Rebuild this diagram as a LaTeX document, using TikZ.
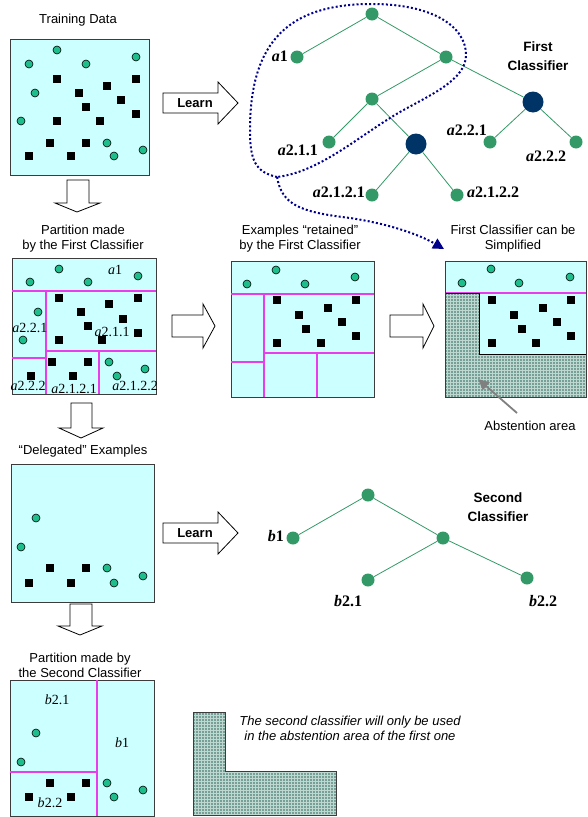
\documentclass[tikz,border=0pt]{standalone}
\usepackage{fontspec}
\setmainfont{Liberation Sans}
\newfontfamily\serifface{Liberation Serif}
\usetikzlibrary{arrows.meta,patterns}

\definecolor{boxfill}{RGB}{204,255,255}
\definecolor{boxline}{RGB}{60,60,60}
\definecolor{dotgreen}{RGB}{30,190,140}
\definecolor{treegreen}{RGB}{51,153,102}
\definecolor{treeblue}{RGB}{0,51,102}
\definecolor{partline}{RGB}{235,60,235}
\definecolor{loopblue}{RGB}{0,0,140}
\definecolor{abstfill}{RGB}{118,160,150}
\definecolor{abstgrid}{RGB}{190,215,208}

\tikzset{
  posdot/.style={circle, draw=black, line width=0.6pt, fill=dotgreen, inner sep=0pt, minimum size=8pt},
  negsq/.style={rectangle, fill=black, inner sep=0pt, minimum size=7.5pt},
  databox/.style={draw=boxline, line width=1pt, fill=boxfill},
  cut/.style={draw=partline, line width=1.1pt},
  leaf/.style={circle, fill=treegreen, inner sep=0pt, minimum size=13pt},
  inner/.style={circle, fill=treeblue, inner sep=0pt, minimum size=21pt},
  branch/.style={draw=treegreen, line width=0.8pt},
  treelab/.style={font=\fontsize{16}{18}\selectfont\serifface\bfseries, inner sep=0pt},
  celllab/.style={font=\fontsize{14}{16}\selectfont\serifface, inner sep=0pt},
  boxtitle/.style={font=\fontsize{13}{15}\selectfont, align=center, inner sep=0pt},
  treetitle/.style={font=\fontsize{13.5}{19.5}\selectfont\bfseries, align=center, inner sep=0pt},
  fatarrow/.style={draw=black, line width=0.8pt, fill=white},
  abstention/.style={fill=abstfill, postaction={pattern=grid, pattern color=abstgrid}},
}

\begin{document}
\begin{tikzpicture}[x=1pt,y=-1pt]
\useasboundingbox (0,0) rectangle (587,817);

% training data
\node[boxtitle] (t1) at (78,20) {Training Data};
\draw[databox] (10,39) rectangle (149,175);
\foreach \x/\y [count=\i] in {57/50,29/64,86/64,136/57,35/93,21/121,107/143,114/156,143/150}
  \node[posdot] (tdc\i) at (\x,\y) {};
\foreach \x/\y [count=\i] in {57/79,136/79,107/86,79/93,121/100,86/107,57/121,100/121,136/114,50/143,86/143,29/156,71/156}
  \node[negsq] (tds\i) at (\x,\y) {};

% learn arrow
\draw[fatarrow] (163,93) -- (218,93) -- (218,82) -- (238,103) -- (218,124) -- (218,113) -- (163,113) -- cycle;
\node[font=\fontsize{13}{15}\selectfont\bfseries] (learn1) at (195,103) {Learn};

% first classifier
\node[leaf] (r) at (372,14) {};
\node[leaf] (a1) at (297,57) {};
\node[leaf] (a2) at (446,57) {};
\node[leaf] (a21) at (372,99) {};
\node[inner] (a22) at (533,102) {};
\node[leaf] (a211) at (329,142) {};
\node[inner] (a212) at (416,144) {};
\node[leaf] (a221) at (490,142) {};
\node[leaf] (a222) at (576,142) {};
\node[leaf] (a2121) at (372,195) {};
\node[leaf] (a2122) at (457,195) {};
\draw[branch] (r) -- (a1) (r) -- (a2) (a2) -- (a21) (a2) -- (a22)
  (a21) -- (a211) (a21) -- (a212) (a212) -- (a2121) (a212) -- (a2122)
  (a22) -- (a221) (a22) -- (a222);
\node[treelab, anchor=east] (la1) at (288,56) {{\itshape a}1};
\node[treelab, anchor=east] (la211) at (318,150) {{\itshape a}2.1.1};
\node[treelab, anchor=east] (la221) at (487,130) {{\itshape a}2.2.1};
\node[treelab] (la222) at (546,156) {{\itshape a}2.2.2};
\node[treelab, anchor=east] (la2121) at (365,192) {{\itshape a}2.1.2.1};
\node[treelab, anchor=west] (la2122) at (467,192) {{\itshape a}2.1.2.2};
\node[treetitle] (c1) at (538,56) {First\\Classifier};

% part of the tree that is kept
\coordinate (loopend) at (277,177);
\coordinate (simptip) at (444,249);
\draw[loopblue, line width=2pt, dash pattern=on 2pt off 2.2pt]
  (loopend) .. controls (255,172) and (250,160) .. (250,130)
  .. controls (250,40) and (290,4) .. (372,4)
  .. controls (430,4) and (466,25) .. (466,55)
  .. controls (466,80) and (430,95) .. (400,112)
  .. controls (360,135) and (320,172) .. (loopend);
\draw[loopblue, line width=2pt, dash pattern=on 2pt off 2.2pt, -{Triangle[length=11pt,width=11pt]}]
  (loopend) .. controls (282,205) and (300,212) .. (350,218)
  .. controls (390,224) and (420,235) .. (simptip);

% partition of the first classifier
\draw[fatarrow] (67,180) -- (89,180) -- (89,203) -- (100,203) -- (77,212) -- (55,203) -- (67,203) -- cycle;
\node[boxtitle] (t2) at (83,238.5) {Partition made\\by the First Classifier};
\draw[databox] (12,258) rectangle (156,394);
\draw[cut] (12,291) -- (156,291);
\draw[cut] (46,291) -- (46,394);
\draw[cut] (12,358) -- (46,358);
\draw[cut] (46,351) -- (156,351);
\draw[cut] (99,351) -- (99,394);
\foreach \x/\y [count=\i] in {59/269,30/282,88/282,138/276,38/312,23/340,109/362,117/376,145/369}
  \node[posdot] (pfc\i) at (\x,\y) {};
\foreach \x/\y [count=\i] in {59/298,138/298,109/304,81/312,123/319,88/326,59/340,102/340,138/333,52/362,88/362,31/376,73/376}
  \node[negsq] (pfs\i) at (\x,\y) {};
\node[celllab] (pa1) at (115,270) {{\itshape a}1};
\node[celllab] (pa221) at (30,328) {{\itshape a}2.2.1};
\node[celllab] (pa211) at (112,332) {{\itshape a}2.1.1};
\node[celllab] (pa222) at (28,386) {{\itshape a}2.2.2};
\node[celllab] (pa2121) at (74,389) {{\itshape a}2.1.2.1};
\node[celllab] (pa2122) at (135,386) {{\itshape a}2.1.2.2};

% retained examples
\draw[fatarrow] (172,315) -- (203,315) -- (203,304) -- (215,326) -- (203,348) -- (203,337) -- (172,337) -- cycle;
\node[boxtitle] (t3) at (300,239) {Examples “retained”\\by the First Classifier};
\draw[databox] (231,261) rectangle (374,397);
\draw[cut] (231,294) -- (374,294);
\draw[cut] (264,294) -- (264,397);
\draw[cut] (231,362) -- (264,362);
\draw[cut] (264,353) -- (374,353);
\draw[cut] (317,353) -- (317,397);
\foreach \x/\y [count=\i] in {276/270,247/284,305/284,355/277}
  \node[posdot] (rtc\i) at (\x,\y) {};
\foreach \x/\y [count=\i] in {277/300,356/300,328/308,299/315,342/322,306/329,277/343,321/343,356/336}
  \node[negsq] (rts\i) at (\x,\y) {};

% simplified first classifier
\draw[fatarrow] (390,315) -- (423,315) -- (423,304) -- (434,326) -- (423,348) -- (423,337) -- (390,337) -- cycle;
\node[boxtitle] (t4) at (513,239) {First Classifier can be\\Simplified};
\draw[databox] (445,261) rectangle (586.5,397);
\draw[cut] (445,293) -- (586.5,293);
\fill[abstention] (445,293) -- (479,293) -- (479,354) -- (586.5,354) -- (586.5,397) -- (445,397) -- cycle;
\draw[black, line width=1pt] (445,293) -- (479,293) -- (479,354) -- (586.5,354);
\draw[boxline, line width=1pt] (445,261) rectangle (586.5,397);
\foreach \x/\y [count=\i] in {491/269,462/283,519/283,570/277}
  \node[posdot] (smc\i) at (\x,\y) {};
\foreach \x/\y [count=\i] in {492/300,571/300,543/308,514/315,557/322,522/329,492/343,536/343,571/336}
  \node[negsq] (sms\i) at (\x,\y) {};
\node[boxtitle] (abstlbl) at (530,426) {Abstention area};
\coordinate (abtail) at (517,413);
\coordinate (abtip) at (478,379);
\draw[gray, line width=1.8pt, -{Triangle[length=11pt,width=10pt]}] (abtail) -- (abtip);

% delegated examples
\draw[fatarrow] (71,403) -- (92,403) -- (92,428) -- (103,428) -- (81,438) -- (59,428) -- (71,428) -- cycle;
\node[boxtitle] (t5) at (83,451) {“Delegated” Examples};
\draw[databox] (11,464) rectangle (154,602);
\foreach \x/\y [count=\i] in {36/518,21/547,107/568,114/583,143/576}
  \node[posdot] (dgc\i) at (\x,\y) {};
\foreach \x/\y [count=\i] in {50/568,86/568,29/583,71/583}
  \node[negsq] (dgs\i) at (\x,\y) {};

% learn arrow
\draw[fatarrow] (163,523) -- (218,523) -- (218,512) -- (238,533) -- (218,554) -- (218,543) -- (163,543) -- cycle;
\node[font=\fontsize{13}{15}\selectfont\bfseries] (learn2) at (195,533) {Learn};

% second classifier
\node[leaf] (s) at (368,495) {};
\node[leaf] (b1) at (293,538) {};
\node[leaf] (b2) at (443,538) {};
\node[leaf] (b21) at (368,580) {};
\node[leaf] (b22) at (527,578) {};
\draw[branch] (s) -- (b1) (s) -- (b2) (b2) -- (b21) (b2) -- (b22);
\node[treelab, anchor=east] (lb1) at (284,536) {{\itshape b}1};
\node[treelab] (lb21) at (348,601) {{\itshape b}2.1};
\node[treelab] (lb22) at (543,601) {{\itshape b}2.2};
\node[treetitle] (c2) at (498,507) {Second\\Classifier};

% partition of the second classifier
\draw[fatarrow] (70,604) -- (92,604) -- (92,626) -- (102,626) -- (80,635) -- (58,626) -- (70,626) -- cycle;
\node[boxtitle] (t6) at (80,665.5) {Partition made by\\the Second Classifier};
\draw[databox] (10,680) rectangle (154,816);
\draw[cut] (97,680) -- (97,816);
\draw[cut] (10,772) -- (97,772);
\foreach \x/\y [count=\i] in {36/733,21/762,107/783,114/797,143/790}
  \node[posdot] (psc\i) at (\x,\y) {};
\foreach \x/\y [count=\i] in {50/783,86/783,29/797,71/797}
  \node[negsq] (pss\i) at (\x,\y) {};
\node[celllab] (pb21) at (57,700) {{\itshape b}2.1};
\node[celllab] (pb1) at (122,743) {{\itshape b}1};
\node[celllab] (pb22) at (50,803) {{\itshape b}2.2};

% abstention area of the first one
\fill[abstention] (193,712) -- (225,712) -- (225,771) -- (336,771) -- (336,815) -- (193,815) -- cycle;
\draw[boxline, line width=1pt] (193,712) -- (225,712) -- (225,771) -- (336,771) -- (336,815) -- (193,815) -- cycle;
\node[boxtitle, font=\fontsize{13}{15}\selectfont\itshape] (note) at (350,728.5) {The second classifier will only be used\\in the abstention area of the first one};

\end{tikzpicture}
\end{document}
